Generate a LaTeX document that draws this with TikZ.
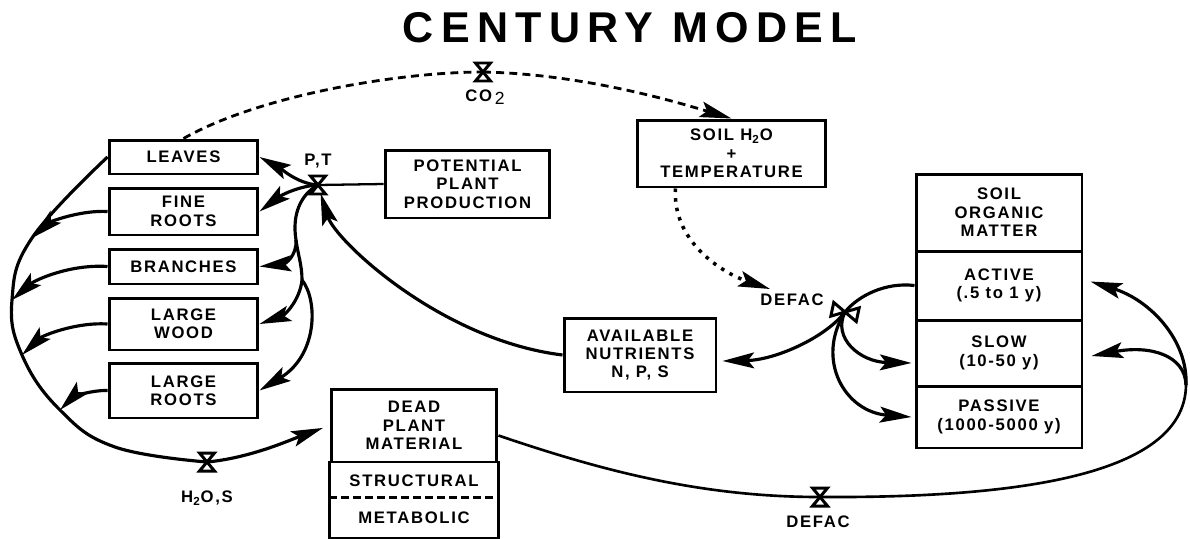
\documentclass[tikz,border=0pt]{standalone}
\usepackage{fontspec}
\setmainfont{Liberation Sans}
\newfontfamily\boxfont{Liberation Sans}[LetterSpace=10]
\newfontfamily\titlefont{Liberation Sans}[LetterSpace=17]
\usetikzlibrary{arrows.meta,calc}

\tikzset{
  pics/valve/.style={code={
    \filldraw[fill=white, line width=1.7pt] (-7.5,-9) -- (7.5,-9) -- (-7.5,9) -- (7.5,9) -- cycle;
  }},
  pics/bowtie/.style={code={
    \filldraw[fill=white, line width=1.7pt] (-13,-7) -- (-13,7) -- (13,-7) -- (13,7) -- cycle;
  }}
}

\begin{document}
\begin{tikzpicture}[x=0.02cm, y=-0.02cm,
    pool/.style={draw, line width=1.7pt, align=center, inner sep=0pt,
      font=\boxfont\fontsize{9.5}{10.5}\selectfont\bfseries, minimum width=2.98cm},
    lbl/.style={font=\boxfont\fontsize{9.5}{10.5}\selectfont\bfseries, inner sep=0pt},
    flow/.style={line width=1.8pt, -{Stealth[length=18pt, width=9pt, inset=3.5pt]}},
  ]
    \useasboundingbox (0,0) rectangle (1190,538);

    % title
    \node[font=\titlefont\fontsize{24.5}{28}\selectfont\bfseries] (title) at (630,28) {CENTURY MODEL};

    % plant parts
    \node[pool, minimum height=0.68cm] (leaves) at (183.5,157) {LEAVES};
    \node[pool, minimum height=0.94cm] (fineroots) at (183.5,211.5) {FINE\\ROOTS};
    \node[pool, minimum height=0.70cm] (branches) at (183.5,266.5) {BRANCHES};
    \node[pool, minimum height=1.04cm] (largewood) at (183.5,324) {LARGE\\WOOD};
    \node[pool, minimum height=1.10cm] (largeroots) at (183.5,390.5) {LARGE\\ROOTS};

    \node[pool, minimum width=3.3cm, minimum height=1.36cm] (potential) at (467.5,184) {POTENTIAL\\PLANT\\PRODUCTION};
    \node[pool, minimum width=3.78cm, minimum height=1.34cm] (soilwater) at (731.5,153.5) {SOIL H\textsubscript{2}O\\+\\TEMPERATURE};
    \node[pool, minimum width=3.04cm, minimum height=1.48cm] (nutrients) at (640,355) {AVAILABLE\\NUTRIENTS\\N, P, S};

    % soil organic matter
    \node[pool, minimum width=3.32cm, minimum height=1.54cm] (somhdr) at (999,212.5) {SOIL\\ORGANIC\\MATTER};
    \node[pool, minimum width=3.32cm, minimum height=1.38cm] (active) at (999,285.5) {ACTIVE\\(.5 to 1 y)};
    \node[pool, minimum width=3.32cm, minimum height=1.32cm] (slow) at (999,353) {SLOW\\(10-50 y)};
    \node[pool, minimum width=3.32cm, minimum height=1.24cm] (passive) at (999,417) {PASSIVE\\(1000-5000 y)};

    % dead plant material
    \node[pool, minimum width=3.32cm, minimum height=1.46cm] (deadhdr) at (414,425.5) {DEAD\\PLANT\\MATERIAL};
    \node[pool, draw=none, minimum width=3.32cm, minimum height=0.74cm] (structural) at (414,480.5) {STRUCTURAL};
    \node[pool, draw=none, minimum width=3.32cm, minimum height=0.76cm] (metabolic) at (414,518) {METABOLIC};
    \draw[line width=1.7pt] (structural.north west) -- (metabolic.south west) -- (metabolic.south east) -- (structural.north east);
    \draw[line width=1.3pt, dash pattern=on 4.5pt off 2.3pt] (metabolic.north west) -- (metabolic.north east);

    % valves
    \coordinate (co2) at (483,72);
    \coordinate (pt) at (318,185);
    \coordinate (h2os) at (207,462);
    \coordinate (defac1) at (845,312);
    \coordinate (defac2) at (820,497);
    \node[lbl] (co2lbl) at (485,97) {CO\,\raisebox{-2pt}{\mdseries\fontsize{10}{10}\selectfont 2}};
    \node[lbl] (ptlbl) at (318,161) {P,T};
    \node[lbl] (h2oslbl) at (207,498) {H\textsubscript{2}O,S};
    \node[lbl] (defaclbl) at (792,300) {DEFAC};
    \node[lbl] (defac2lbl) at (818,522) {DEFAC};

    % helper points
    \coordinate (defacin) at (770,289);
    \coordinate (ptfork1) at (296,240);
    \coordinate (ptfork2) at (302,280);
    \coordinate (arcA) at (32,238);
    \coordinate (arcB) at (12,300);
    \coordinate (arcC) at (22,355);
    \coordinate (arcD) at (60,410);
    \coordinate (rightturn) at (1186,385);

    % CO2 and soil water
    \draw[line width=1.6pt, dash pattern=on 4.5pt off 3pt] (leaves.north) .. controls (260,95) and (400,72) .. (co2);
    \draw[flow, line width=1.6pt, dash pattern=on 4.5pt off 3pt] (co2) .. controls (580,74) and (670,100) .. (soilwater.north);
    \draw[flow, line width=2pt, dash pattern=on 2pt off 3.5pt] ($(soilwater.south)+(-56,0)$) .. controls (672,240) and (720,272) .. (defacin);

    % production
    \draw[line width=1.3pt] (pt) -- (potential.west);
    \draw[flow] (pt) .. controls (298,184) and (280,168) .. (leaves.east);
    \draw[flow] (pt) .. controls (298,186) and (280,196) .. (fineroots.east);
    \draw[line width=1.8pt] (pt) .. controls (300,195) and (292,215) .. (ptfork1) .. controls (298,255) and (302,265) .. (ptfork2);
    \draw[flow] (ptfork1) .. controls (297,256) and (285,264) .. (branches.east);
    \draw[flow] (ptfork2) .. controls (300,300) and (285,315) .. (largewood.east);
    \draw[flow] (ptfork2) .. controls (318,300) and (318,355) .. (largeroots.east);
    \draw[flow, shorten >=5pt] (nutrients.west) .. controls (440,340) and (335,240) .. (pt);

    % litter fall
    \draw[line width=1.8pt] plot[smooth, tension=0.7] coordinates {(leaves.west) (arcA) (arcB) (arcC) (arcD) (115,447) (h2os)};
    \draw[flow] (fineroots.west) .. controls (80,210) and (50,222) .. (arcA);
    \draw[flow] (branches.west) .. controls (70,264) and (35,280) .. (arcB);
    \draw[flow] (largewood.west) .. controls (75,322) and (42,336) .. (arcC);
    \draw[flow] (largeroots.west) .. controls (90,390) and (72,398) .. (arcD);
    \draw[flow, shorten >=4pt] (h2os) .. controls (250,458) and (290,440) .. (deadhdr.west);

    % decomposition
    \draw[flow] (active.west) .. controls (885,282) and (858,296) .. (defac1) .. controls (825,338) and (775,360) .. ($(nutrients.east)+(5,6)$);
    \draw[flow] (defac1) .. controls (832,338) and (860,362) .. ($(slow.west)+(-3,10)$);
    \draw[flow] (defac1) .. controls (815,360) and (845,412) .. ($(passive.west)+(-3,0)$);
    \draw[line width=1.5pt] ($(deadhdr.east)+(0,10)$) .. controls (600,470) and (700,497) .. (defac2) .. controls (1000,498) and (1185,480) .. (rightturn);
    \draw[flow] (rightturn) .. controls (1188,340) and (1150,300) .. ($(active.east)+(7,-4)$);
    \draw[flow] (rightturn) .. controls (1185,355) and (1150,345) .. ($(slow.east)+(8,3)$);

    % valve symbols
    \pic at (co2) {valve};
    \pic at (pt) {valve};
    \pic at (h2os) {valve};
    \pic[rotate=-12] at (defac1) {bowtie};
    \pic at (defac2) {valve};
\end{tikzpicture}
\end{document}
